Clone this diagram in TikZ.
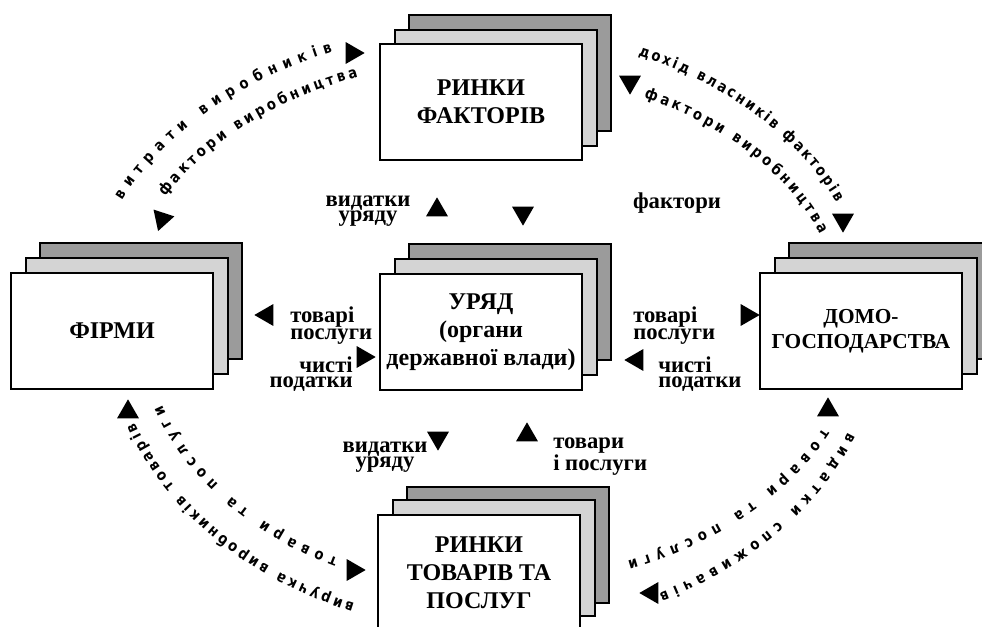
\documentclass[tikz,border=0pt]{standalone}
\usepackage{fontspec}
\setmainfont{Liberation Serif}
\newfontfamily\arcfont[FakeStretch=0.86]{DejaVu Sans}
\usepackage{tikz}
\usetikzlibrary{shapes.geometric,decorations.text,calc}

\definecolor{backgray}{RGB}{155,155,155}
\definecolor{midgray}{RGB}{212,212,212}
\newcommand{\arclbl}{\arcfont\bfseries\fontsize{11.5}{14}\selectfont}

\tikzset{
  card/.style={draw, line width=1.1pt, fill=white, minimum width=151.5pt, minimum height=87pt, align=center, font=\bfseries\fontsize{18}{21}\selectfont},
  cardmid/.style={card, fill=midgray},
  cardback/.style={card, fill=backgray},
  lbl/.style={inner sep=0pt, font=\bfseries\fontsize{17}{11.5}\selectfont},
  tri/.style={regular polygon, regular polygon sides=3, fill, inner sep=0pt, minimum size=19pt},
  arclabel/.style={decorate, decoration={text along path, text align={fit to path}, text={|\arclbl|#1}}}
}

\begin{document}
\begin{tikzpicture}[x=0.75pt,y=0.75pt,yscale=-1,xscale=1]
        \useasboundingbox (0,0) rectangle (982,627);
        \coordinate (mid) at (490,318);
        % stacks
        \node[cardback] (factB) at (510,73) {};
        \node[cardmid] (factM) at (496,88) {};
        \node[card] (fact) at (481,102) {РИНКИ\\ФАКТОРІВ};
        \node[cardback] (firmB) at (141,301) {};
        \node[cardmid] (firmM) at (127,316) {};
        \node[card] (firm) at (112,331) {ФІРМИ};
        \node[cardback] (govB) at (510,302) {};
        \node[cardmid] (govM) at (496,317) {};
        \node[card] (gov) at (481,332) {УРЯД\\(органи\\державної влади)};
        \node[cardback] (homeB) at (890,301) {};
        \node[cardmid] (homeM) at (876,316) {};
        \node[card, font=\bfseries\fontsize{16}{19}\selectfont] (home) at (861,331) {ДОМО-\\ГОСПОДАРСТВА};
        \node[cardback] (goodsB) at (508,545) {};
        \node[cardmid] (goodsM) at (494,558) {};
        \node[card] (goods) at (479,573) {РИНКИ\\ТОВАРІВ ТА\\ПОСЛУГ};
        % labels
        \node[lbl, align=center] (spendT) at (368,211) {видатки\\уряду};
        \node[lbl] (factT) at (677,203) {фактори};
        \node[lbl, align=left, anchor=west] (goodsL) at (290,326) {товарі\\послуги};
        \node[lbl, align=right, anchor=east] (taxL) at (353,374) {чисті\\податки};
        \node[lbl, align=left, anchor=west] (goodsR) at (633,326) {товарі\\послуги};
        \node[lbl, align=left, anchor=west] (taxR) at (658,374) {чисті\\податки};
        \node[lbl, align=center] (spendB) at (385,457) {видатки\\уряду};
        \node[lbl, align=left, anchor=west] (goodsB2) at (553,457) {товари\\і послуги};
        % arrowheads
        \node[tri, rotate=-90] (tA) at (352,53) {};
        \node[tri, rotate=162] (tB) at (162,219) {};
        \node[tri, rotate=180] (tC) at (630,82) {};
        \node[tri, rotate=180] (tD) at (843,220) {};
        \node[tri] (tE) at (128,412) {};
        \node[tri, rotate=-90] (tF) at (353,570) {};
        \node[tri] (tG) at (828,410) {};
        \node[tri, rotate=90] (tH) at (652,593) {};
        \node[tri] (tI) at (437,210) {};
        \node[tri, rotate=180] (tJ) at (523,213) {};
        \node[tri, rotate=90] (tK) at (267,315) {};
        \node[tri, rotate=-90] (tL) at (363,357) {};
        \node[tri, rotate=-90] (tM) at (747,315) {};
        \node[tri, rotate=90] (tN) at (637,360) {};
        \node[tri, rotate=180] (tO) at (438,438) {};
        \node[tri] (tP) at (527,435) {};
        % flows along the circle
        \path[arclabel=витрати виробників] ($(mid)+(-156:403 and 289)$) arc[start angle=-156, end angle=-113, x radius=403, y radius=289];
        \path[arclabel=фактори виробництва] ($(mid)+(-152:368 and 258)$) arc[start angle=-152, end angle=-111, x radius=368, y radius=258];
        \path[arclabel=дохід власників факторів] ($(mid)+(-67:379 and 285)$) arc[start angle=-67, end angle=-24, x radius=379, y radius=285];
        \path[arclabel=фактори виробництва] ($(mid)+(-64:351 and 245)$) arc[start angle=-64, end angle=-20, x radius=351, y radius=245];
        \path[arclabel=товари та послуги] ($(mid)+(116:347 and 268)$) arc[start angle=116, end angle=161, x radius=347, y radius=268];
        \path[arclabel=виручка виробників товарів] ($(mid)+(111:378 and 306)$) arc[start angle=111, end angle=160, x radius=378, y radius=306];
        \path[arclabel=товари та послуги] ($(mid)+(25:367 and 262)$) arc[start angle=25, end angle=68, x radius=367, y radius=262];
        \path[arclabel=видатки споживачів] ($(mid)+(22:386 and 306)$) arc[start angle=22, end angle=64, x radius=386, y radius=306];
    \end{tikzpicture}
\end{document}
